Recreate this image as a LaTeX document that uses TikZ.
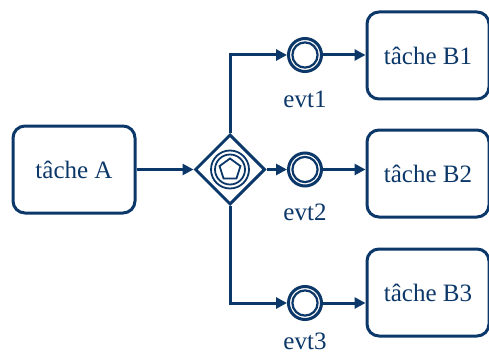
\documentclass[tikz,border=0pt]{standalone}
\usepackage{fontspec}
\setmainfont{Liberation Serif}
\newfontfamily\tnr{Liberation Serif}
\usetikzlibrary{arrows.meta,shapes.geometric,calc}
\definecolor{navy}{RGB}{12,56,105}
\begin{document}
\begin{tikzpicture}[x=1pt,y=1pt,
  task/.style={draw=navy, line width=3pt, rounded corners=12pt, minimum width=122pt, minimum height=87pt, inner sep=0pt, font=\tnr\fontsize{25}{30}\selectfont, text=navy},
  evt/.style={circle, draw=navy, line width=3pt, minimum size=33pt, inner sep=0pt, outer sep=1.5pt},
  evtlabel/.style={font=\tnr\fontsize{25}{30}\selectfont, text=navy, inner sep=0pt},
  gate/.style={diamond, draw=navy, line width=3pt, minimum width=70pt, minimum height=70pt, inner sep=0pt, fill=white},
  flow/.style={draw=navy, line width=3pt, -{Triangle[length=11pt,width=11pt]}}]
\useasboundingbox (0,0) rectangle (489,354);
\fill[white] (0,0) rectangle (489,354);
\node[task] (A) at (74,184.5) {tâche A};
\node[gate] (G) at (230,184.5) {};
\draw[navy, line width=1.8pt] (G.center) circle (19pt);
\draw[navy, line width=1.8pt] (G.center) circle (15pt);
\node[regular polygon, regular polygon sides=5, draw=navy, line width=1.8pt, minimum size=22pt, inner sep=0pt] (P) at (G.center) {};
\node[evt] (E1) at (305,299) {};
\node[evt] (E2) at (305,184.5) {};
\node[evt] (E3) at (305,51) {};
\draw[navy, line width=2.2pt] (E1.center) circle (12.6pt);
\draw[navy, line width=2.2pt] (E2.center) circle (12.6pt);
\draw[navy, line width=2.2pt] (E3.center) circle (12.6pt);
\node[evtlabel] (L1) at (305,255) {evt1};
\node[evtlabel] (L2) at (305,142) {evt2};
\node[evtlabel] (L3) at (305,13) {evt3};
\node[task] (B1) at (428,298.5) {tâche B1};
\node[task] (B2) at (428,180.5) {tâche B2};
\node[task] (B3) at (428,61.5) {tâche B3};
\coordinate (c1) at (G.north |- E1);
\coordinate (c3) at (G.south |- E3);
\draw[flow] (A.east) -- (G.west);
\draw[flow] (G.north) -- (c1) -- (E1.west);
\draw[flow] (G.east) -- (E2.west);
\draw[flow] (G.south) -- (c3) -- (E3.west);
\draw[flow] (E1.east) -- (E1.east -| B1.west);
\draw[flow] (E2.east) -- (E2.east -| B2.west);
\draw[flow] (E3.east) -- (E3.east -| B3.west);
\end{tikzpicture}
\end{document}
